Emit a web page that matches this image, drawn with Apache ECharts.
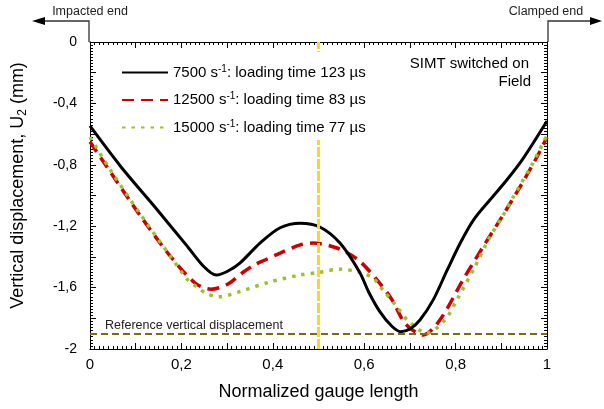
<!DOCTYPE html>
<html>
<head>
<meta charset="utf-8">
<script src="https://cdn.jsdelivr.net/npm/echarts@6/dist/echarts.min.js"></script>
<style>html,body{margin:0;padding:0;background:#fff}#c{width:604px;height:409px}</style>
</head>
<body>
<div id="c"></div>
<script>
const rates = ['7500', '12500', '15000'];
const loadTimes = ['123', '83', '77'];

const blackX = [0, 0.068, 0.142, 0.214, 0.25, 0.276, 0.30, 0.328, 0.372, 0.416, 0.46, 0.503, 0.547, 0.59, 0.61, 0.635, 0.66, 0.68, 0.70, 0.722, 0.751, 0.781, 0.81, 0.839, 0.875, 0.912, 0.948, 1];
const blackY = [-0.547, -0.814, -1.075, -1.335, -1.466, -1.518, -1.495, -1.44, -1.31, -1.21, -1.18, -1.205, -1.31, -1.50, -1.63, -1.76, -1.85, -1.887, -1.87, -1.811, -1.68, -1.49, -1.311, -1.16, -1.029, -0.899, -0.758, -0.515];

const redX = [0, 0.046, 0.112, 0.177, 0.23, 0.265, 0.30, 0.335, 0.361, 0.383, 0.416, 0.46, 0.488, 0.54, 0.587, 0.628, 0.661, 0.69, 0.729, 0.766, 0.816, 0.86, 0.897, 0.941, 0.978, 1];
const redY = [-0.65, -0.853, -1.14, -1.40, -1.57, -1.61, -1.58, -1.50, -1.45, -1.42, -1.375, -1.322, -1.31, -1.342, -1.42, -1.55, -1.68, -1.835, -1.909, -1.81, -1.55, -1.335, -1.16, -0.944, -0.749, -0.62];

const greenX = [0, 0.046, 0.112, 0.177, 0.214, 0.236, 0.254, 0.28, 0.302, 0.324, 0.394, 0.46, 0.503, 0.547, 0.59, 0.62, 0.641, 0.672, 0.694, 0.737, 0.777, 0.805, 0.842, 0.875, 0.902, 0.926, 0.967, 1];
const greenY = [-0.62, -0.84, -1.13, -1.40, -1.55, -1.60, -1.637, -1.66, -1.65, -1.63, -1.563, -1.518, -1.50, -1.48, -1.50, -1.54, -1.616, -1.726, -1.81, -1.896, -1.81, -1.668, -1.466, -1.27, -1.14, -1.01, -0.80, -0.606];

const midLineX = 0.5;
const referenceY = -1.9;
const xTickLabels = ['0', '0,2', '0,4', '0,6', '0,8', '1'];
const yTickLabels = ['0', '-0,4', '-0,8', '-1,2', '-1,6', '-2'];

const FONT = '"Liberation Sans", Arial, Helvetica, sans-serif';
const zip = (xs, ys) => xs.map((x, i) => [x, ys[i]]);

function fmtX(v) {
  const k = Math.round(v * 10);
  return k % 2 === 0 ? xTickLabels[k / 2] : '';
}
function fmtY(v) {
  const k = Math.round(-v * 10);
  return k % 4 === 0 ? yTickLabels[k / 4] : '';
}

function ticks() {
  return {
    axisLine: { show: true, onZero: false, lineStyle: { color: '#000', width: 1 } },
    axisTick: { show: true, inside: true, length: 6, lineStyle: { color: '#000', width: 1 } },
    minorTick: { show: true, splitNumber: 10, length: 3, lineStyle: { color: '#000', width: 1 } },
    splitLine: { show: false },
    minorSplitLine: { show: false }
  };
}

const chart = echarts.init(document.getElementById('c'), null, { renderer: 'canvas' });
chart.setOption({
  animation: false,
  backgroundColor: '#fff',
  textStyle: { fontFamily: FONT },
  grid: { left: 90, right: 57, top: 42, bottom: 60 },
  xAxis: [
    Object.assign(ticks(), {
      type: 'value', min: 0, max: 1, interval: 0.1, position: 'bottom',
      name: 'Normalized gauge length', nameLocation: 'middle', nameGap: 34,
      nameTextStyle: { fontSize: 18, color: '#000', fontFamily: FONT },
      axisLabel: { formatter: fmtX, fontSize: 15, color: '#000', margin: 8, fontFamily: FONT }
    }),
    Object.assign(ticks(), {
      type: 'value', min: 0, max: 1, interval: 0.1, position: 'top',
      axisLabel: { show: false }
    })
  ],
  yAxis: [
    Object.assign(ticks(), {
      type: 'value', min: -2, max: 0, interval: 0.2, position: 'left',
      name: 'Vertical displacement, U{sub|2} (mm)', nameLocation: 'middle', nameGap: 61,
      nameTextStyle: { fontSize: 18, color: '#000', fontFamily: FONT, padding: [0, 0, 0, 20],
        rich: { sub: { fontSize: 12, padding: [10, 0, 0, 0], fontFamily: FONT, color: '#000' } } },
      axisLabel: { formatter: fmtY, fontSize: 14, color: '#000', margin: 13, fontFamily: FONT }
    }),
    Object.assign(ticks(), {
      type: 'value', min: -2, max: 0, interval: 0.2, position: 'right',
      axisLabel: { show: false }
    })
  ],
  legend: {
    orient: 'vertical', left: 111, top: 52, z: 10,
    padding: [12, 10, 4, 10], itemGap: 10.5,
    itemWidth: 46, itemHeight: 14,
    backgroundColor: '#fff',
    itemStyle: { opacity: 0 },
    data: rates,
    formatter: (name) => {
      const i = rates.indexOf(name);
      return name + ' s{sup|-1}: loading time ' + loadTimes[i] + ' \u00b5s';
    },
    textStyle: { fontSize: 15, lineHeight: 17, color: '#000', fontFamily: FONT,
      rich: { sup: { fontSize: 10, lineHeight: 10, padding: [0, 0, 7, 0], fontFamily: FONT, color: '#000' } } }
  },
  series: [
    {
      name: rates[0], type: 'line', smooth: 0.3, symbol: 'none', showSymbol: false,
      data: zip(blackX, blackY),
      lineStyle: { color: '#000', width: 3, type: 'solid' },
      itemStyle: { color: '#000' },
      z: 3,
      markLine: {
        silent: true, symbol: 'none',
        lineStyle: { color: '#ffd42a', width: 3, type: [10, 2] },
        label: { show: false },
        data: [{ xAxis: midLineX }]
      }
    },
    {
      name: rates[1], type: 'line', smooth: 0.3, symbol: 'none', showSymbol: false,
      data: zip(redX, redY),
      lineStyle: { color: '#cc0000', width: 3.5, type: [12, 7] },
      itemStyle: { color: '#cc0000' },
      z: 2,
      markLine: {
        silent: true, symbol: 'none',
        lineStyle: { color: '#7f6a10', width: 2, type: [7, 4] },
        label: { show: true, position: 'insideStartTop', formatter: 'Reference vertical displacement',
          fontSize: 12.5, color: '#222', fontFamily: FONT, distance: [15, 2] },
        data: [{ yAxis: referenceY }]
      }
    },
    {
      name: rates[2], type: 'line', smooth: 0.3, symbol: 'none', showSymbol: false,
      data: zip(greenX, greenY),
      lineStyle: { color: '#9cc12f', width: 3.5, type: [3.5, 6] },
      itemStyle: { color: '#9cc12f' },
      z: 2
    }
  ],
  graphic: [
    { type: 'polyline', shape: { points: [[89, 42], [89, 21], [44, 21]] }, style: { stroke: '#333', lineWidth: 1.3, fill: null } },
    { type: 'polygon', shape: { points: [[32, 21], [45, 17], [45, 25]] }, style: { fill: '#000' } },
    { type: 'text', x: 90, y: 12, style: { text: 'Impacted end', font: '12.5px ' + FONT, fill: '#222', textAlign: 'center', textVerticalAlign: 'middle' } },
    { type: 'polyline', shape: { points: [[548, 42], [548, 21], [591, 21]] }, style: { stroke: '#333', lineWidth: 1.3, fill: null } },
    { type: 'polygon', shape: { points: [[602, 21], [590, 17], [590, 25]] }, style: { fill: '#000' } },
    { type: 'text', x: 546, y: 12, style: { text: 'Clamped end', font: '12.5px ' + FONT, fill: '#222', textAlign: 'center', textVerticalAlign: 'middle' } },
    { type: 'text', x: 529, y: 64, style: { text: 'SIMT switched on', font: '15px ' + FONT, fill: '#000', textAlign: 'right', textVerticalAlign: 'middle' } },
    { type: 'text', x: 531, y: 82, style: { text: 'Field', font: '15px ' + FONT, fill: '#000', textAlign: 'right', textVerticalAlign: 'middle' } }
  ]
});
</script>
</body>
</html>
